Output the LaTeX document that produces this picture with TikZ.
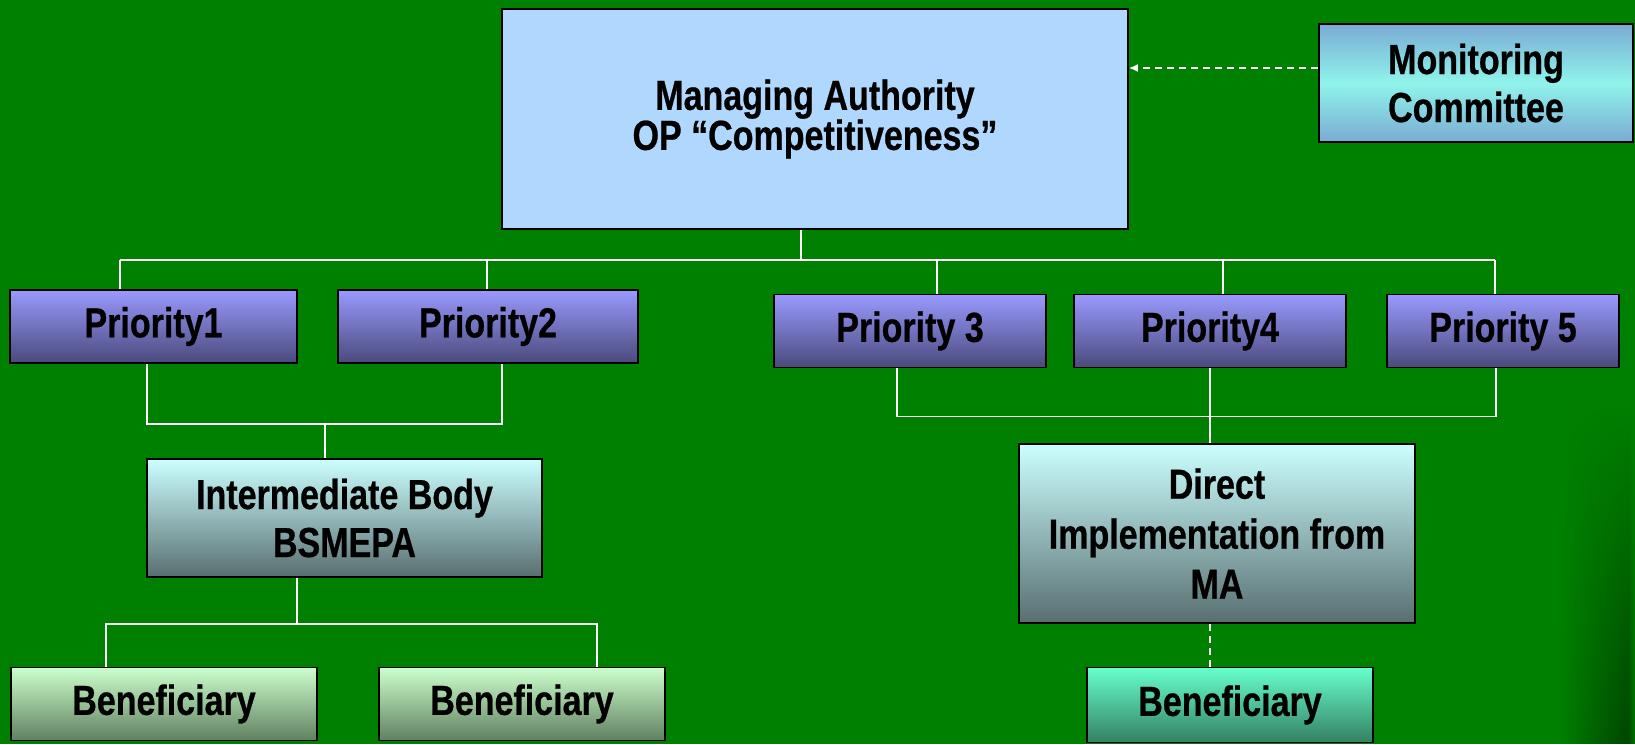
\documentclass[tikz,border=0pt]{standalone}
\usepackage{fontspec}
\setmainfont{Liberation Sans}[FakeStretch=0.81, BoldFeatures={FakeBold=0.6}]
\usetikzlibrary{arrows.meta,positioning,fadings}
\definecolor{slidegreen}{RGB}{0,128,0}
\definecolor{slidedark}{RGB}{0,70,0}
\definecolor{mafill}{RGB}{176,216,255}
\definecolor{mcedge}{RGB}{122,170,212}
\definecolor{mcmid}{RGB}{144,244,234}
\definecolor{priotop}{RGB}{153,153,255}
\definecolor{priobot}{RGB}{74,74,124}
\definecolor{bodytop}{RGB}{204,255,255}
\definecolor{bodybot}{RGB}{88,110,112}
\definecolor{bentop}{RGB}{204,255,204}
\definecolor{benbot}{RGB}{96,128,96}
\definecolor{directtop}{RGB}{102,255,204}
\definecolor{directbot}{RGB}{52,128,100}
\tikzfading[name=stripfade, top color=transparent!100, bottom color=transparent!0]

\begin{document}
\begin{tikzpicture}[
    x=1pt, y=-1pt,
    every node/.style={font=\fontsize{42}{48}\selectfont\bfseries},
    box/.style={rectangle, draw=black, line width=1.8pt, align=center, inner sep=0pt},
    prio/.style={box, top color=priotop, bottom color=priobot, minimum height=73pt},
    body/.style={box, top color=bodytop, bottom color=bodybot},
    benef/.style={box, top color=bentop, bottom color=benbot, minimum height=73pt},
    wire/.style={draw=white, line width=1.6pt},
    link/.style={wire, dash pattern=on 7pt off 5pt},
]

% Background
\useasboundingbox (0,0) rectangle (1635,744);
\fill[slidegreen] (0,0) rectangle (1635,744);
\shade[left color=slidegreen, right color=slidedark, path fading=stripfade] (1560,400) rectangle (1628,744);
\shade[left color=slidedark, right color=slidegreen!80!slidedark, path fading=stripfade] (1628,400) rectangle (1635,744);

% --- TOP LEVEL ---
\node[box, fill=mafill, minimum width=626pt, minimum height=220pt, font=\fontsize{42}{40}\selectfont\bfseries] (ma) at (815,119) {Managing Authority\\OP “Competitiveness”};
\node[box, top color=mcedge, bottom color=mcedge, middle color=mcmid, minimum width=314pt, minimum height=118pt] (mc) at (1476,83) {Monitoring\\Committee};

% --- PRIORITIES ---
\node[prio, minimum width=287pt] (p1) at (153.5,326.5) {Priority1};
\node[prio, minimum width=300pt] (p2) at (488,326.5) {Priority2};
\node[prio, minimum width=272pt] (p3) at (910,331) {Priority 3};
\node[prio, minimum width=272pt] (p4) at (1210,331) {Priority4};
\node[prio, minimum width=232pt] (p5) at (1503,331) {Priority 5};

% --- IMPLEMENTATION ---
\node[body, minimum width=395pt, minimum height=118pt] (ib) at (344.5,518) {Intermediate Body\\BSMEPA};
\node[body, minimum width=396pt, minimum height=179pt, font=\fontsize{42}{50}\selectfont\bfseries] (di) at (1217,533.5) {Direct\\Implementation from\\MA};

% --- BENEFICIARIES ---
\node[benef, minimum width=306pt] (b1) at (164,704) {Beneficiary};
\node[benef, minimum width=286pt] (b2) at (522,704) {Beneficiary};
\node[benef, top color=directtop, bottom color=directbot, minimum width=286pt, minimum height=75pt] (b3) at (1230,705) {Beneficiary};

% Monitoring arrow
\coordinate (mcin) at ([yshift=15pt]mc.west);
\draw[link, -{Latex[length=9pt,width=8pt]}] (mcin) -- (mcin -| ma.east);

% Bus under the managing authority
\coordinate (bus) at (801,260);
\coordinate (t1) at (120,260);
\coordinate (t2) at (487,260);
\coordinate (t3) at (937,260);
\coordinate (t4) at (1223,260);
\coordinate (t5) at (1495,260);
\draw[wire] (bus |- ma.south) -- (bus);
\draw[wire] (t1) -- (t5);
\draw[wire] (t1) -- (t1 |- p1.north);
\draw[wire] (t2) -- (t2 |- p2.north);
\draw[wire] (t3) -- (t3 |- p3.north);
\draw[wire] (t4) -- (t4 |- p4.north);
\draw[wire] (t5) -- (t5 |- p5.north);

% Priorities 1,2 -> intermediate body
\draw[wire] ([xshift=-6.5pt]p1.south) -- ++(0,60) -| ([xshift=14pt]p2.south);
\draw[wire] ([xshift=-19.5pt]ib.north) -- ++(0,-35);

% Priorities 3,4,5 -> direct implementation
\draw[wire] ([xshift=-13pt]p3.south) -- ++(0,48) -| ([xshift=-7pt]p5.south);
\draw[wire] (p4.south) -- (p4.south |- di.north);

% Down to beneficiaries
\draw[wire] ([xshift=-47.5pt]ib.south) -- ++(0,46) coordinate (split);
\draw[wire] ([xshift=-58pt]b1.north) |- (split) -| ([xshift=75pt]b2.north);
\draw[link] (di.south -| p4.south) -- (b3.north -| p4.south);

\end{tikzpicture}
\end{document}
